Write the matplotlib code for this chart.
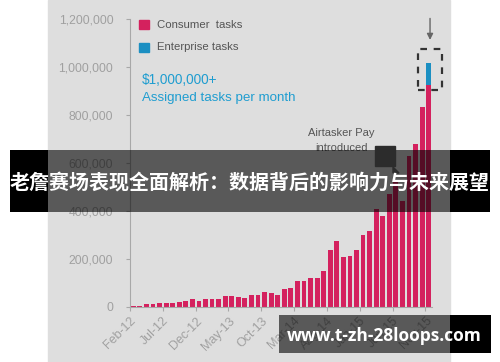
import matplotlib
matplotlib.use('Agg')
import matplotlib.pyplot as plt
from matplotlib.patches import Rectangle, Polygon

# Monthly assigned tasks, Feb-12 .. Nov-15
consumer = [4000, 4000, 9000, 9000, 13000, 15000, 15000, 18000, 21000, 33000,
            25000, 32000, 32000, 32000, 44000, 44000, 40000, 37000, 46000, 46000,
            61000, 58000, 50000, 72000, 76000, 108000, 105000, 120000, 120000, 149000,
            236000, 275000, 206000, 210000, 234000, 297000, 317000, 405000, 376000, 470000,
            520000, 440000, 628000, 679000, 834000, 925000]
enterprise = [0] * 45 + [93000]
tick_labels = ["Feb-12", "Jul-12", "Dec-12", "May-13", "Oct-13",
               "Mar-14", "Aug-14", "Jan-15", "Jun-15", "Nov-15"]
y_ticks = [0, 200000, 400000, 600000, 800000, 1000000, 1200000]

title = "老詹赛场表现全面解析：数据背后的影响力与未来展望"
url = "www.t-zh-28loops.com"

PINK = "#d4215e"
BLUE = "#1b8fc2"
GREY_TXT = "#a0a0a0"
BG = "#dedede"

plt.rcParams['font.family'] = ['Liberation Sans', 'DejaVu Sans']

W, H = 500, 362
fig = plt.figure(figsize=(W / 100, H / 100), dpi=100)
fig.patch.set_facecolor("white")


def px(x0, y0, x1, y1):
    # pixel box (top-left origin) -> figure fraction rect
    return (x0 / W, 1 - y1 / H, (x1 - x0) / W, (y1 - y0) / H)


# grey panel behind the chart
r = px(48, 0, 450, 362)
fig.add_artist(Rectangle(r[:2], r[2], r[3], transform=fig.transFigure,
                         color=BG, zorder=0))

ax = fig.add_axes([130 / W, 1 - 306.5 / H, 302 / W, 287.5 / H])
ax.set_facecolor("none")

x = list(range(len(consumer)))
ax.bar(x, consumer, width=0.74, color=PINK, zorder=2)
ax.bar(x, enterprise, width=0.74, bottom=consumer, color=BLUE, zorder=2)

ax.set_xlim(-0.5, len(consumer) - 0.5)
ax.set_ylim(0, 1200000)
ax.set_yticks(y_ticks)
ax.set_yticklabels([f"{v:,}" for v in y_ticks])
ax.set_xticks([i - 0.5 for i in range(0, len(consumer), 5)])
ax.set_xticklabels(tick_labels, rotation=45, ha="right", rotation_mode="anchor")

for s in ["top", "right"]:
    ax.spines[s].set_visible(False)
for s in ["left", "bottom"]:
    ax.spines[s].set_color("#a8a8a8")
ax.tick_params(axis="y", colors="#a8a8a8", labelcolor=GREY_TXT, labelsize=8.8,
               length=3, pad=9)
ax.tick_params(axis="x", colors="#a8a8a8", labelcolor=GREY_TXT, labelsize=9,
               length=3, pad=3)

# legend
for yy, col, lab in [(20, PINK, "Consumer  tasks"), (42.7, BLUE, "Enterprise tasks")]:
    r = px(139.3, yy, 148.7, yy + 9.3)
    fig.add_artist(Rectangle(r[:2], r[2], r[3], transform=fig.transFigure,
                             color=col, zorder=3))
    fig.text(157 / W, 1 - (yy + 4.8) / H, lab, fontsize=8.2, color="#555555",
             va="center", ha="left")

fig.text(142 / W, 1 - 80 / H, "$1,000,000+", fontsize=9.8, color="#1f9dd0",
         va="center", ha="left")
fig.text(142 / W, 1 - 98 / H, "Assigned tasks per month", fontsize=9.6,
         color="#1f9dd0", va="center", ha="left")

fig.text(341 / W, 1 - 140.5 / H, "Airtasker Pay\nintroduced", fontsize=8,
         color="#555555", ha="center", va="center", linespacing=1.6)

# arrow + dashed box around the last bar
ax.annotate("", xy=(45.2, 1101000), xytext=(45.2, 1214000),
            arrowprops=dict(arrowstyle="-|>", color="#666666", lw=1,
                            mutation_scale=9),
            annotation_clip=False)
ax.add_patch(Rectangle((43.35, 903000), 3.6, 170000, fill=False,
                       ec="#333333", lw=1.6, ls=(0, (3, 3)), clip_on=False,
                       zorder=4))

# dark overlay bands
for box, a in [((10, 150, 48, 212), 1), ((450, 150, 490, 212), 1),
               ((48, 150, 450, 212), 0.6),
               ((279, 315, 450, 353), 0.6), ((450, 315, 491, 353), 1)]:
    r = px(*box)
    fig.add_artist(Rectangle(r[:2], r[2], r[3], transform=fig.transFigure,
                             color="black", alpha=a, lw=0, zorder=10))

# dark marker near the annotation
r = px(375, 146, 395, 166)
fig.add_artist(Rectangle(r[:2], r[2], r[3], transform=fig.transFigure,
                         color="#2c2c2c", zorder=11))
tri = [(393 / W, 1 - 167 / H), (399 / W, 1 - 173 / H), (393 / W, 1 - 173 / H)]
fig.add_artist(Polygon(tri, closed=True, transform=fig.transFigure,
                       color="#2c2c2c", zorder=11))

fig.text(250 / W, 1 - 182 / H, title, fontsize=14.4, fontweight="bold",
         color="white", ha="center", va="center", zorder=12,
         family=["Noto Sans CJK SC", "DejaVu Sans"])
fig.text(384 / W, 1 - 336 / H, url, fontsize=12.5, fontweight="bold",
         color="white", ha="center", va="center", zorder=12,
         family=["Open Sans", "DejaVu Sans"])

fig.savefig("out.png", dpi=100)
